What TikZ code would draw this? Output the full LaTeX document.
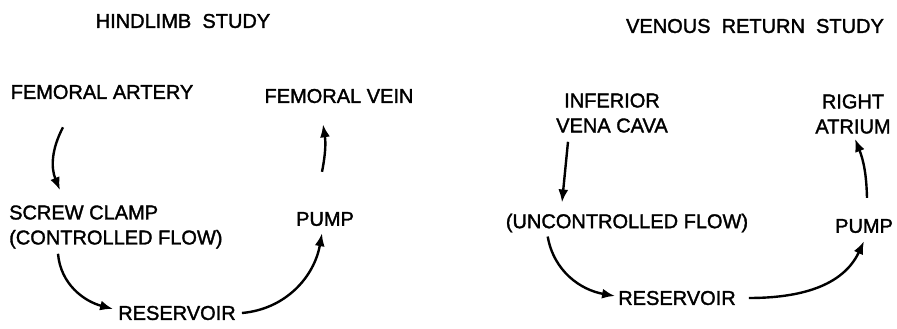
\documentclass[tikz,border=0pt]{standalone}
\usepackage{fontspec}
\setmainfont{Liberation Sans}
\newfontfamily\lblfont{Liberation Sans}[FakeBold=1.6]
\usetikzlibrary{positioning,arrows.meta}

\begin{document}
\begin{tikzpicture}[node distance={71pt}, line width=2.4pt, >={Latex[length=13pt,width=10pt]},
  lbl/.style = {inner sep=2pt, font=\lblfont\fontsize{20}{25}\selectfont}, align=center]
  \useasboundingbox (0,0) rectangle (897pt,-329pt);

  % hindlimb study
  \node[lbl] (h) at (183pt,-21pt) {HINDLIMB\ \ STUDY};
  \node[lbl] (1) [below of=h,xshift=-81pt] {FEMORAL ARTERY};
  \node[lbl] (2) [right of=1,xshift=166pt,yshift=-4pt] {FEMORAL VEIN};
  \node[lbl] (3) [below of=1,anchor=west,align=left,xshift=-96pt,yshift=-64pt] {SCREW CLAMP\\(CONTROLLED FLOW)};
  \node[lbl] (4) [below of=2,xshift=-14pt,yshift=-52pt] {PUMP};
  \node[lbl] (5) [below of=4,xshift=-148pt,yshift=-23pt] {RESERVOIR};

  \draw[->] ([xshift=-39pt,yshift=-25pt]1.south) to[bend right=25] ([xshift=54pt,yshift=12pt]3.north west);
  \draw[->] ([xshift=52pt,yshift=-2pt]3.south west) to[out=-85,in=165] ([xshift=-2pt,yshift=4pt]5.west);
  \draw[->] ([xshift=3pt]5.east) to[out=5,in=-100] ([xshift=-3pt,yshift=-4pt]4.south);
  \draw[->] ([xshift=-3pt,yshift=37pt]4.north) to[bend right=10] ([xshift=-16pt,yshift=-18pt]2.south);

  % venous return study
  \node[lbl] (v) at (755pt,-26pt) {VENOUS\ \ RETURN\ \ STUDY};
  \node[lbl] (6) [below of=v,xshift=-143pt,yshift=-16pt] {INFERIOR\\VENA CAVA};
  \node[lbl] (7) [right of=6,xshift=170pt,yshift=-1pt] {RIGHT\\ATRIUM};
  \node[lbl] (8) [below of=6,xshift=15pt,yshift=-39pt] {(UNCONTROLLED FLOW)};
  \node[lbl] (9) [below of=7,xshift=11pt,yshift=-41pt] {PUMP};
  \node[lbl] (10) [below of=8,xshift=50pt,yshift=-4pt] {RESERVOIR};

  \draw[->] ([xshift=-44pt,yshift=-6pt]6.south) to ([xshift=-65pt,yshift=8pt]8.north);
  \draw[->] ([xshift=45pt,yshift=-1pt]8.south west) to[out=-80,in=170] ([yshift=2pt]10.west);
  \draw[->] ([xshift=10pt]10.east) to[out=0,in=-115] ([yshift=-5pt]9.south);
  \draw[->] ([xshift=3pt,yshift=18pt]9.north) to[bend right=10] ([xshift=2pt,yshift=-2pt]7.south);

\end{tikzpicture}
\end{document}
